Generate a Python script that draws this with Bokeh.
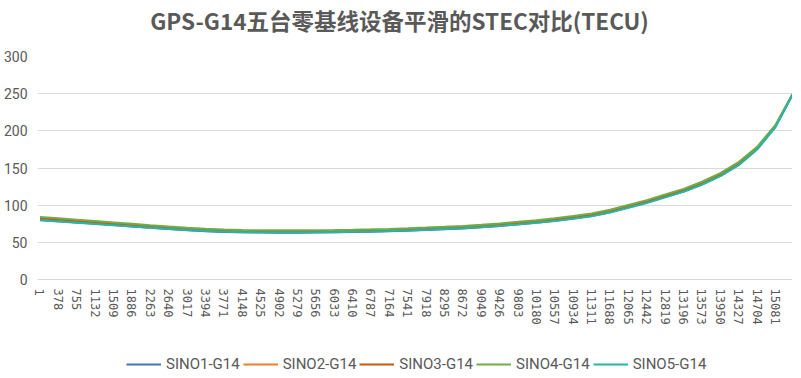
from bokeh.plotting import figure
from bokeh.layouts import column
from bokeh.models import FixedTicker, Legend, LegendItem, Range1d, Label
from bokeh.embed import file_html
from bokeh.resources import INLINE

# sample indices (category positions)
x_idx = [1, 378, 755, 1132, 1509, 1886, 2263, 2640, 3017, 3394, 3771, 4148, 4525, 4902,
         5279, 5656, 6033, 6410, 6787, 7164, 7541, 7918, 8295, 8672, 9049, 9426, 9803,
         10180, 10557, 10934, 11311, 11688, 12065, 12442, 12819, 13196, 13573, 13950,
         14327, 14704, 15081, 15430]

tick_labels = ["1", "378", "755", "1132", "1509", "1886", "2263", "2640", "3017", "3394",
               "3771", "4148", "4525", "4902", "5279", "5656", "6033", "6410", "6787",
               "7164", "7541", "7918", "8295", "8672", "9049", "9426", "9803", "10180",
               "10557", "10934", "11311", "11688", "12065", "12442", "12819", "13196",
               "13573", "13950", "14327", "14704", "15081"]
tick_pos = [1, 378, 755, 1132, 1509, 1886, 2263, 2640, 3017, 3394, 3771, 4148, 4525, 4902,
            5279, 5656, 6033, 6410, 6787, 7164, 7541, 7918, 8295, 8672, 9049, 9426, 9803,
            10180, 10557, 10934, 11311, 11688, 12065, 12442, 12819, 13196, 13573, 13950,
            14327, 14704, 15081]

sino1 = [80.0, 78.4, 76.7, 75.0, 73.2, 71.4, 69.6, 67.9, 66.3, 65.0, 64.0, 63.4, 63.1, 63.0,
         63.0, 63.1, 63.4, 63.8, 64.3, 64.9, 65.7, 66.6, 67.6, 68.7, 70.2, 72.1, 74.2,
         76.4, 78.9, 81.9, 85.4, 90.4, 96.9, 103.4, 110.9, 118.4, 127.9, 139.4, 154.3,
         175.2, 205.5, 248.5]
sino2 = [82.8, 81.1, 79.4, 77.6, 75.8, 74.0, 72.1, 70.2, 68.5, 67.0, 65.9, 65.3, 65.0, 64.9,
         64.9, 65.0, 65.3, 65.7, 66.2, 66.8, 67.6, 68.5, 69.5, 70.6, 72.0, 73.9, 76.0,
         78.2, 80.7, 83.7, 87.2, 92.2, 98.7, 105.2, 112.7, 120.2, 129.7, 141.2, 156.2,
         177.2, 207.0, 249.0]
sino3 = [82.3, 80.6, 78.9, 77.1, 75.3, 73.5, 71.7, 69.9, 68.4, 67.1, 66.1, 65.5, 65.2, 65.1,
         65.1, 65.2, 65.5, 65.9, 66.4, 67.0, 67.7, 68.6, 69.6, 70.7, 72.0, 73.9, 76.0,
         78.2, 80.7, 83.7, 87.2, 92.2, 98.7, 105.2, 112.7, 120.2, 129.7, 141.2, 156.2,
         177.2, 207.0, 249.0]
sino4 = [84.0, 82.3, 80.5, 78.7, 76.8, 74.9, 73.0, 71.2, 69.6, 68.2, 67.2, 66.6, 66.3, 66.2,
         66.2, 66.3, 66.6, 67.0, 67.5, 68.1, 68.9, 69.8, 70.9, 72.1, 73.6, 75.5, 77.6,
         79.8, 82.3, 85.3, 88.8, 93.8, 100.3, 106.8, 114.3, 121.9, 131.5, 143.0, 158.0,
         178.5, 208.0, 249.5]
sino5 = [79.7, 78.0, 76.3, 74.6, 72.9, 71.2, 69.5, 67.9, 66.5, 65.2, 64.3, 63.7, 63.4, 63.3,
         63.3, 63.4, 63.7, 64.1, 64.6, 65.2, 66.0, 66.9, 67.9, 69.0, 70.3, 72.1, 74.1,
         76.3, 78.8, 81.7, 85.1, 90.0, 96.5, 103.0, 110.5, 118.0, 127.5, 139.0, 153.8,
         174.8, 205.0, 248.5]

series_names = ["SINO1-G14", "SINO2-G14", "SINO3-G14", "SINO4-G14", "SINO5-G14"]
series_vals = [sino1, sino2, sino3, sino4, sino5]
colors = ["#4472C4", "#ED7D31", "#C55A11", "#70AD47", "#26B5A6"]

title_text = "GPS-G14五台零基线设备平滑的STEC对比(TECU)"
grey = "#595959"
W = 792


def blank_strip(height):
    f = figure(width=W, height=height, output_backend="svg", toolbar_location=None,
               x_range=Range1d(0, 1), y_range=Range1d(0, 1),
               min_border_left=0, min_border_right=0, min_border_top=0,
               min_border_bottom=0)
    f.axis.visible = False
    f.grid.visible = False
    f.outline_line_color = None
    f.border_fill_color = "white"
    f.background_fill_color = "white"
    return f


# title strip
tf = blank_strip(40)
tf.add_layout(Label(x=362, y=21, x_units="screen", y_units="screen", text=title_text,
                    text_align="center", text_baseline="middle",
                    text_font="Noto Sans CJK SC", text_font_size="22.5px",
                    text_font_style="bold", text_color=grey))

# main chart
p = figure(width=W, height=293, output_backend="svg", toolbar_location=None,
           x_range=Range1d(-50, 15430), y_range=Range1d(0, 300),
           min_border_left=35, min_border_right=0, min_border_top=16,
           min_border_bottom=54)
p.outline_line_color = None
p.background_fill_color = "white"
p.border_fill_color = "white"

for name, vals, c in zip(series_names, series_vals, colors):
    p.line(x_idx, vals, line_color=c, line_width=2)

p.yaxis.ticker = FixedTicker(ticks=[0, 50, 100, 150, 200, 250, 300])
p.yaxis.axis_line_color = None
p.yaxis.major_tick_line_color = None
p.yaxis.minor_tick_line_color = None
p.yaxis.major_tick_out = 0
p.yaxis.major_tick_in = 0
p.yaxis.minor_tick_out = 0
p.yaxis.major_label_text_font = "Roboto"
p.yaxis.major_label_text_font_size = "14px"
p.yaxis.major_label_text_color = grey
p.yaxis.major_label_standoff = 10

p.xaxis.ticker = FixedTicker(ticks=tick_pos)
p.xaxis.major_label_overrides = {pos: lab for pos, lab in zip(tick_pos, tick_labels)}
p.xaxis.major_label_orientation = "vertical"
p.xaxis.axis_line_color = "#D9D9D9"
p.xaxis.major_tick_line_color = None
p.xaxis.minor_tick_line_color = None
p.xaxis.major_tick_out = 0
p.xaxis.major_tick_in = 0
p.xaxis.minor_tick_out = 0
p.xaxis.major_label_text_font = "DejaVu Sans Mono"
p.xaxis.major_label_text_font_size = "12px"
p.xaxis.major_label_text_color = grey
p.xaxis.major_label_standoff = 9

p.xgrid.grid_line_color = None
p.ygrid.grid_line_color = "#D9D9D9"
p.ygrid.grid_line_width = 1

# legend strip
lf = blank_strip(40)
items = []
for name, c in zip(series_names, colors):
    r = lf.line(x=[5, 6], y=[5, 6], line_color=c, line_width=2)
    items.append(LegendItem(label=name, renderers=[r]))
legend = Legend(items=items, orientation="horizontal", location=(89, 0),
                label_text_font="Roboto", label_text_font_size="15px",
                label_text_color=grey, glyph_width=35, glyph_height=14,
                label_standoff=5, spacing=3, padding=0, margin=0,
                label_height=14,
                border_line_color=None, background_fill_alpha=0)
lf.add_layout(legend, "center")

layout = column(tf, p, lf, spacing=0)
open("out.html", "w").write(file_html(layout, INLINE))
